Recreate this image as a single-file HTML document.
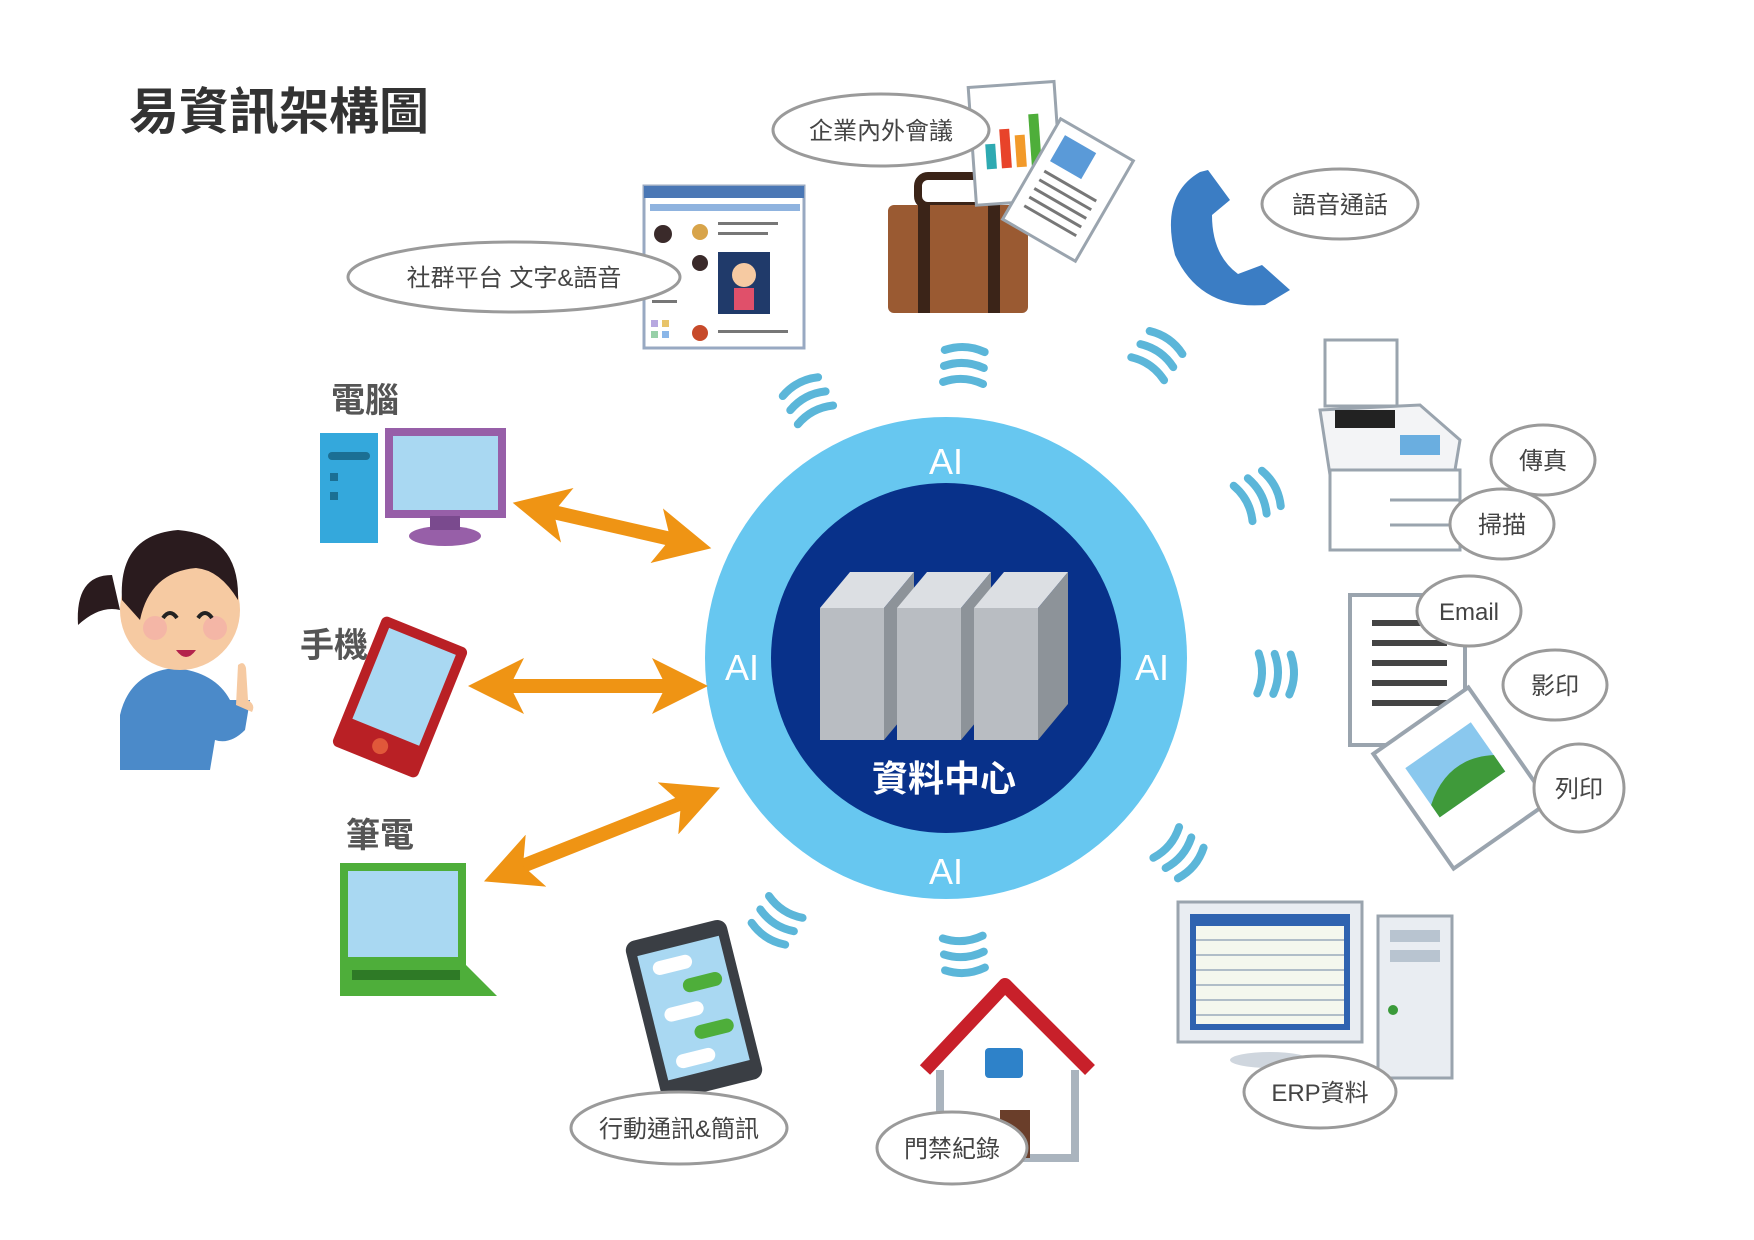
<!DOCTYPE html>
<html><head><meta charset="utf-8"><style>
html,body{margin:0;padding:0;background:#fff}
svg{display:block}
text{font-family:"Liberation Sans","Noto Sans CJK TC",sans-serif}
</style></head><body>
<svg width="1754" height="1240" viewBox="0 0 1754 1240" xmlns="http://www.w3.org/2000/svg">
<defs>
<g id="wave"><g fill="none" stroke="#5bb6d9" stroke-width="8" stroke-linecap="round">
<path d="M-20,-14 Q0,-22 20,-14"/><path d="M-20,2 Q0,-6 20,2"/><path d="M-20,18 Q0,10 20,18"/></g></g>
<marker id="ah" markerWidth="4" markerHeight="4" refX="2" refY="2" orient="auto-start-reverse" markerUnits="strokeWidth"><path d="M0,0 L4,2 L0,4 L1,2Z" fill="#ef9414"/></marker>
</defs>

<text x="129" y="129" font-size="50" font-weight="bold" fill="#333">易資訊架構圖</text>

<!-- center -->
<circle cx="946" cy="658" r="241" fill="#67c7f0"/>
<circle cx="946" cy="658" r="175" fill="#08318a"/>
<g font-size="36" fill="#fff" text-anchor="middle">
<text x="946" y="474">AI</text><text x="742" y="680">AI</text><text x="1152" y="680">AI</text><text x="946" y="884">AI</text>
</g>
<text x="944" y="791" font-size="36" font-weight="bold" fill="#fff" text-anchor="middle">資料中心</text>
<!-- servers -->
<g>
<polygon points="820,608 850,572 914,572 884,608" fill="#dcdfe3"/>
<rect x="820" y="608" width="64" height="132" fill="#b9bdc2"/>
<polygon points="884,608 914,572 914,704 884,740" fill="#8d9399"/>
<polygon points="897,608 927,572 991,572 961,608" fill="#dcdfe3"/>
<rect x="897" y="608" width="64" height="132" fill="#b9bdc2"/>
<polygon points="961,608 991,572 991,704 961,740" fill="#8d9399"/>
<polygon points="974,608 1004,572 1068,572 1038,608" fill="#dcdfe3"/>
<rect x="974" y="608" width="64" height="132" fill="#b9bdc2"/>
<polygon points="1038,608 1068,572 1068,704 1038,740" fill="#8d9399"/>
</g>

<!-- waves -->
<use href="#wave" transform="translate(807,399) rotate(-28)"/>
<use href="#wave" transform="translate(964,365) rotate(3)"/>
<use href="#wave" transform="translate(1158,354) rotate(35)"/>
<use href="#wave" transform="translate(1259,495) rotate(62)"/>
<use href="#wave" transform="translate(1276,674) rotate(92)"/>
<use href="#wave" transform="translate(1180,854) rotate(130)"/>
<use href="#wave" transform="translate(964,955) rotate(176)"/>
<use href="#wave" transform="translate(776,922) rotate(-147)"/>

<!-- arrows -->
<g stroke="#ef9414" stroke-width="14" fill="none" marker-start="url(#ah)" marker-end="url(#ah)">
<line x1="540" y1="509" x2="684" y2="542"/>
<line x1="496" y1="686" x2="680" y2="686"/>
<line x1="510" y1="871" x2="694" y2="798"/>
</g>

<!-- left labels -->
<g font-size="34" font-weight="bold" fill="#555" text-anchor="middle">
<text x="365" y="412">電腦</text><text x="334" y="657">手機</text><text x="380" y="847">筆電</text>
</g>
<!-- computer -->
<rect x="320" y="433" width="58" height="110" fill="#34a8dc"/>
<rect x="328" y="452" width="42" height="8" rx="4" fill="#1b6f94"/>
<rect x="330" y="473" width="8" height="8" fill="#1b6f94"/><rect x="330" y="492" width="8" height="8" fill="#1b6f94"/>
<rect x="385" y="428" width="121" height="90" fill="#975fa8"/>
<rect x="393" y="436" width="105" height="74" fill="#a9d8f2"/>
<ellipse cx="445" cy="536" rx="36" ry="10" fill="#975fa8"/><rect x="430" y="516" width="30" height="14" fill="#7a4a8e"/>
<!-- phone -->
<g transform="translate(400,697) rotate(22)">
<rect x="-46" y="-70" width="92" height="140" rx="6" fill="#b92025"/>
<rect x="-36" y="-60" width="72" height="98" fill="#a9d8f2"/>
<circle cx="0" cy="53" r="8" fill="#e0583a"/></g>
<!-- laptop -->
<rect x="340" y="863" width="126" height="102" fill="#4eae3a"/>
<rect x="348" y="871" width="110" height="86" fill="#a9d8f2"/>
<polygon points="340,965 466,965 497,996 340,996" fill="#4eae3a"/>
<rect x="352" y="970" width="108" height="10" fill="#2e7a26"/>
<!-- woman -->
<g>
<path d="M120,770 L120,715 Q130,672 175,668 Q215,672 230,700 L250,700 L245,730 Q230,745 215,740 L210,770Z" fill="#4b8ac9"/>
<circle cx="180" cy="610" r="60" fill="#f6caa2"/>
<path d="M122,600 Q118,535 178,530 Q240,535 238,600 Q220,570 196,568 Q150,572 140,620 Z" fill="#2a1b1e"/>
<path d="M112,575 Q75,575 78,625 Q100,605 120,610Z" fill="#2a1b1e"/>
<circle cx="155" cy="628" r="12" fill="#f3a8a8" opacity=".6"/><circle cx="215" cy="628" r="12" fill="#f3a8a8" opacity=".6"/>
<path d="M163,618 Q170,608 177,618 M198,618 Q205,608 212,618" stroke="#222" stroke-width="4" fill="none"/>
<path d="M176,650 Q186,664 196,650Z" fill="#b3234c"/>
<path d="M236,705 L238,665 Q244,660 246,668 L248,700 Q256,705 252,712 Z" fill="#f6caa2"/>
</g>

<!-- browser -->
<rect x="644" y="186" width="160" height="162" fill="#fff" stroke="#98a9c2" stroke-width="3"/>
<rect x="644" y="186" width="160" height="12" fill="#4a77b5"/>
<rect x="650" y="204" width="150" height="7" fill="#8fb3df"/>
<rect x="718" y="252" width="52" height="62" fill="#203a6a"/><circle cx="744" cy="275" r="12" fill="#f6caa2"/><rect x="734" y="288" width="20" height="22" fill="#e0506a"/>
<circle cx="663" cy="234" r="9" fill="#3a2a2a"/><circle cx="700" cy="232" r="8" fill="#d8a44a"/><circle cx="700" cy="263" r="8" fill="#3a2a2a"/><circle cx="700" cy="333" r="8" fill="#c74a2a"/>
<g fill="#777"><rect x="718" y="222" width="60" height="3"/><rect x="718" y="232" width="50" height="3"/><rect x="718" y="330" width="70" height="3"/><rect x="652" y="300" width="25" height="3"/></g>
<g fill="#b7a8e0"><rect x="651" y="320" width="7" height="7"/><rect x="662" y="320" width="7" height="7" fill="#e8c46a"/><rect x="651" y="331" width="7" height="7" fill="#98d0a8"/><rect x="662" y="331" width="7" height="7" fill="#8ab6e8"/></g>
<!-- suitcase -->
<rect x="918" y="176" width="80" height="30" rx="10" fill="none" stroke="#3b2418" stroke-width="8"/>
<rect x="888" y="205" width="140" height="108" rx="6" fill="#9a5a32"/>
<rect x="918" y="205" width="12" height="108" fill="#3b2418"/><rect x="988" y="205" width="12" height="108" fill="#3b2418"/>
<!-- papers -->
<g transform="translate(1020,140) rotate(-4)"><rect x="-48" y="-56" width="86" height="118" fill="#fff" stroke="#9aa4ae" stroke-width="3"/>
<rect x="-35" y="2" width="10" height="25" fill="#2eaab2"/><rect x="-20" y="-12" width="10" height="39" fill="#e8432a"/><rect x="-5" y="-5" width="10" height="32" fill="#f29a2a"/><rect x="10" y="-25" width="10" height="52" fill="#4eae3a"/></g>
<g transform="translate(1068,190) rotate(30)"><rect x="-42" y="-58" width="84" height="116" fill="#fff" stroke="#9aa4ae" stroke-width="3"/><rect x="-30" y="-46" width="36" height="30" fill="#5a9ad8"/>
<g fill="#777"><rect x="-30" y="-6" width="60" height="3"/><rect x="-30" y="4" width="60" height="3"/><rect x="-30" y="14" width="60" height="3"/><rect x="-30" y="24" width="60" height="3"/><rect x="-30" y="34" width="60" height="3"/></g></g>
<!-- handset -->
<path d="M1200,172 Q1160,195 1175,255 Q1200,310 1265,305 L1290,290 L1262,265 L1238,274 Q1212,255 1212,215 L1230,200 L1208,170Z" fill="#3b7dc4"/>
<!-- copier -->
<rect x="1325" y="340" width="72" height="66" fill="#fff" stroke="#9aa4ae" stroke-width="3"/>
<polygon points="1320,410 1420,405 1460,440 1455,470 1330,475" fill="#f3f4f6" stroke="#9aa4ae" stroke-width="3"/>
<rect x="1335" y="410" width="60" height="18" fill="#222"/>
<rect x="1400" y="435" width="40" height="20" fill="#6aaee0"/>
<rect x="1330" y="470" width="130" height="80" fill="#fff" stroke="#9aa4ae" stroke-width="3"/>
<line x1="1390" y1="500" x2="1460" y2="500" stroke="#9aa4ae" stroke-width="3"/><line x1="1390" y1="525" x2="1460" y2="525" stroke="#9aa4ae" stroke-width="3"/>
<!-- document -->
<rect x="1350" y="595" width="115" height="150" fill="#fff" stroke="#9aa4ae" stroke-width="4"/>
<g fill="#444"><rect x="1372" y="620" width="75" height="6"/><rect x="1372" y="640" width="75" height="6"/><rect x="1372" y="660" width="75" height="6"/><rect x="1372" y="680" width="75" height="6"/><rect x="1372" y="700" width="75" height="6"/></g>
<g transform="translate(1461,778) rotate(-35)"><rect x="-58" y="-70" width="116" height="140" fill="#fff" stroke="#9aa4ae" stroke-width="4"/>
<rect x="-40" y="-40" width="80" height="60" fill="#8ac8ee"/><path d="M-40,5 Q0,-25 40,0 L40,20 L-40,20Z" fill="#3f9a3a"/></g>
<!-- ERP -->
<rect x="1178" y="902" width="184" height="140" fill="#e9edf2" stroke="#9aa4ae" stroke-width="3"/>
<rect x="1190" y="914" width="160" height="116" fill="#2f63b0"/>
<rect x="1196" y="926" width="148" height="98" fill="#f4f7ee"/>
<g stroke="#9ab" stroke-width="1.5"><line x1="1196" y1="940" x2="1344" y2="940"/><line x1="1196" y1="955" x2="1344" y2="955"/><line x1="1196" y1="970" x2="1344" y2="970"/><line x1="1196" y1="985" x2="1344" y2="985"/><line x1="1196" y1="1000" x2="1344" y2="1000"/><line x1="1196" y1="1015" x2="1344" y2="1015"/></g>
<ellipse cx="1270" cy="1060" rx="40" ry="8" fill="#cfd6de"/>
<rect x="1378" y="916" width="74" height="162" fill="#e9edf2" stroke="#9aa4ae" stroke-width="3"/>
<rect x="1390" y="930" width="50" height="12" fill="#b8c4d0"/><rect x="1390" y="950" width="50" height="12" fill="#b8c4d0"/>
<circle cx="1393" cy="1010" r="5" fill="#3a9a3a"/>
<!-- house -->
<path d="M925,1070 L1005,985 L1090,1070" fill="none" stroke="#c8202a" stroke-width="14" stroke-linejoin="round"/>
<polygon points="940,1070 1005,1005 1075,1070 1075,1158 940,1158" fill="#fff"/>
<path d="M940,1070 L940,1158 L1075,1158 L1075,1070" fill="none" stroke="#aab4be" stroke-width="8"/>
<rect x="985" y="1048" width="38" height="30" rx="4" fill="#2e82c9"/>
<rect x="1000" y="1110" width="30" height="48" fill="#6a3e2a"/>
<!-- mobile -->
<g transform="translate(694,1010) rotate(-14)"><rect x="-52" y="-82" width="104" height="164" rx="10" fill="#3a3e44"/>
<rect x="-42" y="-66" width="84" height="128" fill="#a9d8f2"/>
<rect x="-30" y="-56" width="40" height="14" rx="7" fill="#fff"/><rect x="-5" y="-32" width="40" height="14" rx="7" fill="#4eae3a"/><rect x="-30" y="-8" width="40" height="14" rx="7" fill="#fff"/><rect x="-5" y="16" width="40" height="14" rx="7" fill="#4eae3a"/><rect x="-30" y="40" width="40" height="14" rx="7" fill="#fff"/></g>

<!-- ellipse labels -->
<g fill="#fff" stroke="#9a9a9a" stroke-width="3">
<ellipse cx="881" cy="130" rx="108" ry="36"/>
<ellipse cx="1340" cy="204" rx="78" ry="35"/>
<ellipse cx="514" cy="277" rx="166" ry="35"/>
<ellipse cx="1543" cy="460" rx="52" ry="35"/>
<ellipse cx="1502" cy="524" rx="52" ry="35"/>
<ellipse cx="1469" cy="611" rx="52" ry="35"/>
<ellipse cx="1555" cy="685" rx="52" ry="35"/>
<ellipse cx="1579" cy="788" rx="45" ry="44"/>
<ellipse cx="1320" cy="1092" rx="76" ry="36"/>
<ellipse cx="952" cy="1148" rx="75" ry="36"/>
<ellipse cx="679" cy="1128" rx="108" ry="36"/>
</g>
<g font-size="24" fill="#444" text-anchor="middle">
<text x="881" y="139">企業內外會議</text>
<text x="1340" y="213">語音通話</text>
<text x="514" y="286">社群平台 文字&amp;語音</text>
<text x="1543" y="469">傳真</text>
<text x="1502" y="533">掃描</text>
<text x="1469" y="620">Email</text>
<text x="1555" y="694">影印</text>
<text x="1579" y="797">列印</text>
<text x="1320" y="1101">ERP資料</text>
<text x="952" y="1157">門禁紀錄</text>
<text x="679" y="1137">行動通訊&amp;簡訊</text>
</g>
</svg>
</body></html>
